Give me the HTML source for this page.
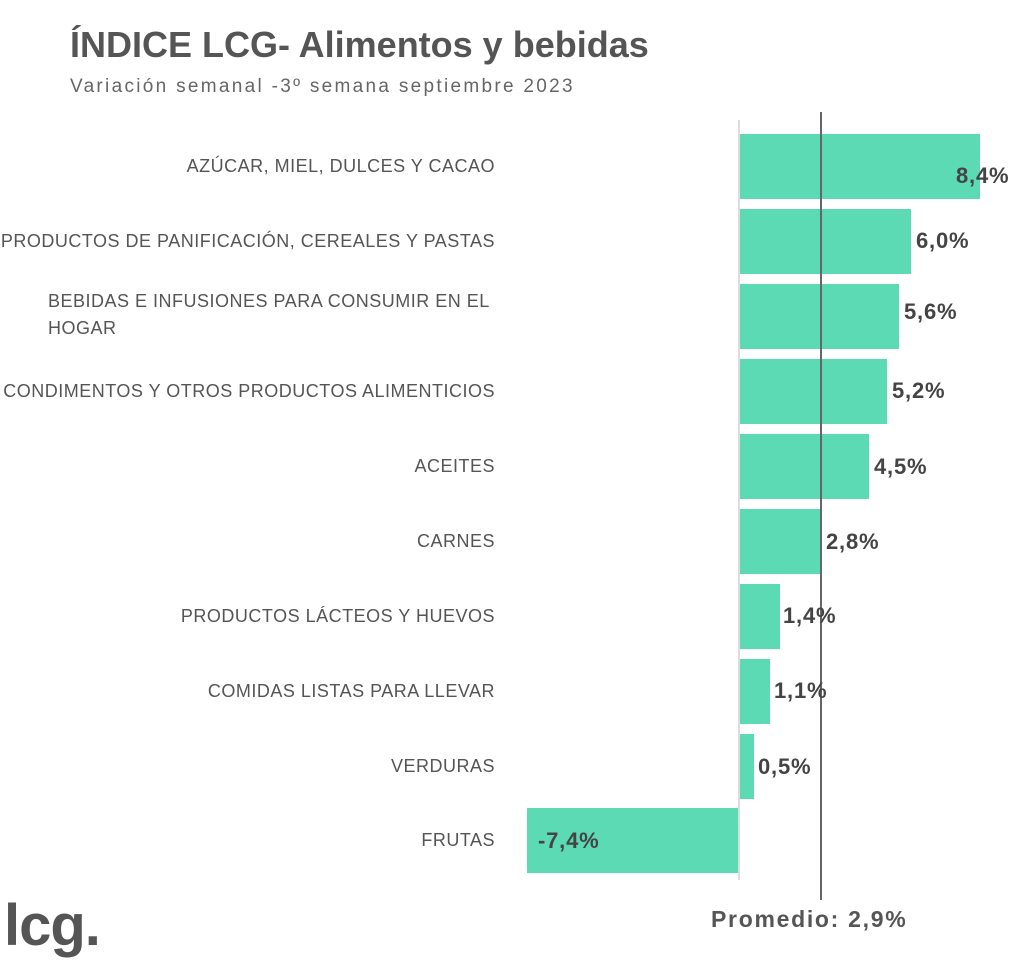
<!DOCTYPE html>
<html><head><meta charset="utf-8"><style>
body{margin:0;width:1024px;height:967px;background:#fff;position:relative;overflow:hidden;font-family:"Liberation Sans","DejaVu Sans",sans-serif;color:#555}
.a{position:absolute;white-space:nowrap}
.lab{position:absolute;right:529px;font-size:18px;letter-spacing:0.5px;color:#555;text-align:left;line-height:27px;white-space:nowrap}
.bar{position:absolute;height:65px;background:#5cdab4}
.val{position:absolute;font-size:22px;letter-spacing:0.8px;font-weight:bold;color:#444}
</style></head><body>
<div class="a" style="left:70px;top:24px;font-size:36px;font-weight:bold;color:#555">ÍNDICE LCG- Alimentos y bebidas</div>
<div class="a" style="left:70px;top:76px;font-size:19px;letter-spacing:2.3px;color:#666">Variación semanal -3º semana septiembre 2023</div>

<div style="position:absolute;left:738px;top:120px;width:2px;height:760px;background:#ddd"></div>

<div class="bar" style="left:740px;top:134px;width:240px"></div>
<div class="bar" style="left:740px;top:209px;width:171px"></div>
<div class="bar" style="left:740px;top:284px;width:159px"></div>
<div class="bar" style="left:740px;top:359px;width:147px"></div>
<div class="bar" style="left:740px;top:434px;width:129px"></div>
<div class="bar" style="left:740px;top:509px;width:80px"></div>
<div class="bar" style="left:740px;top:584px;width:40px"></div>
<div class="bar" style="left:740px;top:659px;width:30px"></div>
<div class="bar" style="left:740px;top:734px;width:14px"></div>
<div class="bar" style="left:527px;top:808px;width:211px"></div>

<div style="position:absolute;left:820px;top:112px;width:2px;height:788px;background:#666"></div>

<div class="lab" style="top:153px">AZÚCAR, MIEL, DULCES Y CACAO</div>
<div class="lab" style="top:228px">PRODUCTOS DE PANIFICACIÓN, CEREALES Y PASTAS</div>
<div class="lab" style="top:288px;right:auto;left:48px">BEBIDAS E INFUSIONES PARA CONSUMIR EN EL<br>HOGAR</div>
<div class="lab" style="top:378px">CONDIMENTOS Y OTROS PRODUCTOS ALIMENTICIOS</div>
<div class="lab" style="top:453px">ACEITES</div>
<div class="lab" style="top:528px">CARNES</div>
<div class="lab" style="top:603px">PRODUCTOS LÁCTEOS Y HUEVOS</div>
<div class="lab" style="top:678px">COMIDAS LISTAS PARA LLEVAR</div>
<div class="lab" style="top:753px">VERDURAS</div>
<div class="lab" style="top:827px">FRUTAS</div>

<div class="val" style="left:956px;top:163px">8,4%</div>
<div class="val" style="left:916px;top:228px">6,0%</div>
<div class="val" style="left:904px;top:299px">5,6%</div>
<div class="val" style="left:892px;top:378px">5,2%</div>
<div class="val" style="left:874px;top:454px">4,5%</div>
<div class="val" style="left:826px;top:529px">2,8%</div>
<div class="val" style="left:783px;top:603px">1,4%</div>
<div class="val" style="left:774px;top:678px">1,1%</div>
<div class="val" style="left:758px;top:754px">0,5%</div>
<div class="val" style="left:538px;top:828px">-7,4%</div>

<div class="a" style="left:711px;top:906px;font-size:23px;letter-spacing:1.7px;font-weight:bold;color:#555">Promedio: 2,9%</div>
<div class="a" style="left:4px;top:892px;font-size:58px;font-weight:bold;color:#555;letter-spacing:-1px">lcg.</div>
</body></html>
